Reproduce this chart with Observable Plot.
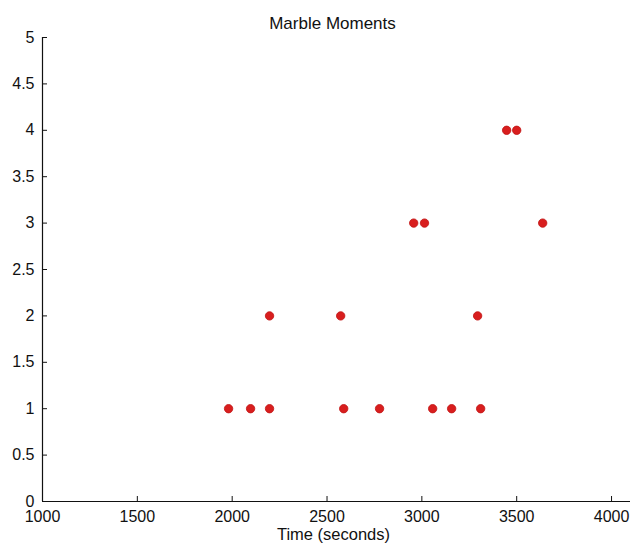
<!DOCTYPE html>
<html>
<head>
<meta charset="utf-8">
<script src="https://cdn.jsdelivr.net/npm/d3@7"></script>
<script src="https://cdn.jsdelivr.net/npm/@observablehq/plot@0.6"></script>
<style>
  html, body { margin: 0; padding: 0; background: #fff; }
  #chart svg { display: block; }
</style>
</head>
<body>
<div id="chart"></div>
<script>
// Data
const times = [1981, 2097, 2197, 2197, 2572, 2588, 2777, 2957, 3014, 3057, 3157, 3294, 3310, 3447, 3500, 3637];
const moments = [1, 1, 1, 2, 2, 1, 1, 3, 3, 1, 1, 2, 1, 4, 4, 3];
const xTicks = [1000, 1500, 2000, 2500, 3000, 3500, 4000];
const yTicks = [0, 0.5, 1, 1.5, 2, 2.5, 3, 3.5, 4, 4.5, 5];
const titleText = "Marble Moments";
const xLabelText = "Time (seconds)";

const data = times.map((t, i) => ({time: t, moment: moments[i]}));

const chart = Plot.plot({
  width: 632,
  height: 549,
  marginLeft: 42,
  marginRight: 2,
  marginTop: 37,
  marginBottom: 48,
  style: {fontFamily: "'Liberation Sans', Arial, sans-serif", fontSize: "16px", color: "#111", background: "#fff"},
  x: {domain: [1000, 4100]},
  y: {domain: [0, 5]},
  marks: [
    Plot.axisX({ticks: xTicks, tickFormat: d => String(d), tickSize: -5, tickPadding: 14, label: null, fontSize: 16, stroke: "#111"}),
    Plot.axisY({ticks: yTicks, tickFormat: d => String(d), tickSize: -5, tickPadding: 13, label: null, fontSize: 16, stroke: "#111"}),
    Plot.ruleY([0], {stroke: "#111", strokeWidth: 1.2}),
    Plot.ruleX([1000], {stroke: "#111", strokeWidth: 1.2}),
    Plot.dot(data, {x: "time", y: "moment", r: 4.2, fill: "#d81e1e", stroke: "#c01010", strokeWidth: 0.8}),
    Plot.text([titleText], {frameAnchor: "top", dy: -21, dx: -4, fontSize: 17, fill: "#111"}),
    Plot.text([xLabelText], {frameAnchor: "bottom", dy: 38, dx: -3, fontSize: 16.5, fill: "#111"})
  ]
});
document.getElementById("chart").appendChild(chart);
</script>
</body>
</html>
